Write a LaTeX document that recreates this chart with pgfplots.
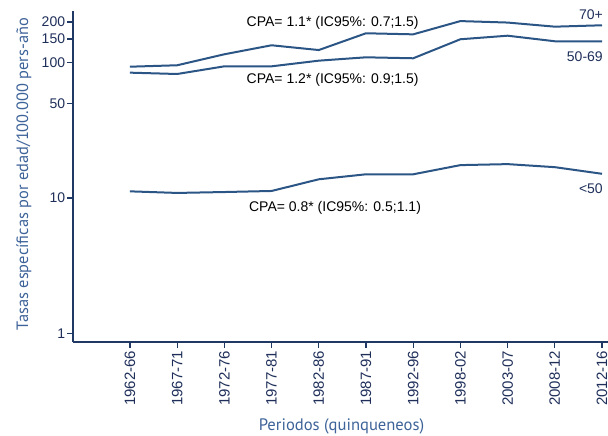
\documentclass[border=0pt]{standalone}
\usepackage{fontspec}
\setmainfont{Liberation Sans}
\newfontfamily\labelfont{PT Sans}
\usepackage{pgfplots}
\pgfplotsset{compat=1.18}
\definecolor{linec}{HTML}{2B5585}
\definecolor{axisc}{HTML}{1F3864}
\definecolor{tickc}{HTML}{1F2F5A}
\definecolor{titlec}{HTML}{3E6399}
\begin{document}
\begin{tikzpicture}
\path[use as bounding box] (-73.3bp,-94.3bp) rectangle (534.7bp,341.7bp);
\begin{axis}[
  at={(0,0)}, anchor=south west,
  scale only axis,
  width=534.7bp, height=330.7bp,
  ymode=log, log basis y=10,
  xmin=-1.2, xmax=10.127,
  ymin=0.867, ymax=241,
  axis x line*=bottom, axis y line*=left,
  axis line style={axisc, line width=1.8bp},
  every tick/.style={axisc, line width=1.3bp},
  major tick length=6bp,
  tick align=outside,
  yminorticks=false,
  xtick={0,...,10},
  xticklabels={1962-66,1967-71,1972-76,1977-81,1982-86,1987-91,1992-96,1998-02,2003-07,2008-12,2012-16},
  xticklabel style={rotate=90, anchor=east, font=\fontsize{15bp}{15bp}\selectfont, text=tickc, inner sep=3bp},
  ytick={1,10,50,100,150,200},
  yticklabels={1,10,50,100,150,200},
  yticklabel style={font=\fontsize{14bp}{14bp}\selectfont, text=tickc, inner sep=2bp},
  /pgf/number format/assume math mode=true,
  xlabel={Periodos (quinqueneos)},
  ylabel={Tasas específicas por edad/100.000 pers-año},
  xlabel style={at={(rel axis cs:0.5016,0)}, anchor=center, yshift=-84.5bp, font=\labelfont\fontsize{16.6bp}{16.6bp}\selectfont, text=titlec},
  ylabel style={at={(rel axis cs:0,0.507)}, anchor=center, yshift=49.5bp, font=\labelfont\fontsize{16.4bp}{16.4bp}\selectfont, text=titlec},
  clip=false,
]
\addplot[linec, line width=2bp] coordinates {
(0,93.4) (1,95.7) (2,115.4) (3,134.5) (4,124) (5,165) (6,162) (7,203) (8,198) (9,184.6) (10,189)};
\addplot[linec, line width=2bp] coordinates {
(0,84.4) (1,82.5) (2,94) (3,94) (4,103.5) (5,109.6) (6,107.8) (7,149) (8,158.3) (9,144) (10,144)};
\addplot[linec, line width=2bp] coordinates {
(0,11.2) (1,10.9) (2,11.07) (3,11.27) (4,13.75) (5,14.97) (6,14.97) (7,17.5) (8,17.8) (9,16.9) (10,15.1)};
\node[anchor=west, font=\fontsize{14bp}{14bp}\selectfont, inner sep=0pt] at (axis cs:2.47,197.5) {CPA= 1.1* (IC95\%: 0.7;1.5)};
\node[anchor=west, font=\fontsize{14bp}{14bp}\selectfont, inner sep=0pt] at (axis cs:2.47,74.5) {CPA= 1.2* (IC95\%: 0.9;1.5)};
\node[anchor=west, font=\fontsize{14bp}{14bp}\selectfont, inner sep=0pt] at (axis cs:2.52,8.39) {CPA= 0.8* (IC95\%: 0.5;1.1)};
\node[anchor=east, font=\fontsize{14bp}{14bp}\selectfont, text=tickc, inner sep=0pt] at (axis cs:10.02,225) {70+};
\node[anchor=east, font=\fontsize{14bp}{14bp}\selectfont, text=tickc, inner sep=0pt] at (axis cs:10.02,110.7) {50-69};
\node[anchor=east, font=\fontsize{14bp}{14bp}\selectfont, text=tickc, inner sep=0pt] at (axis cs:10.02,11.8) {<50};
\end{axis}
\end{tikzpicture}
\end{document}
